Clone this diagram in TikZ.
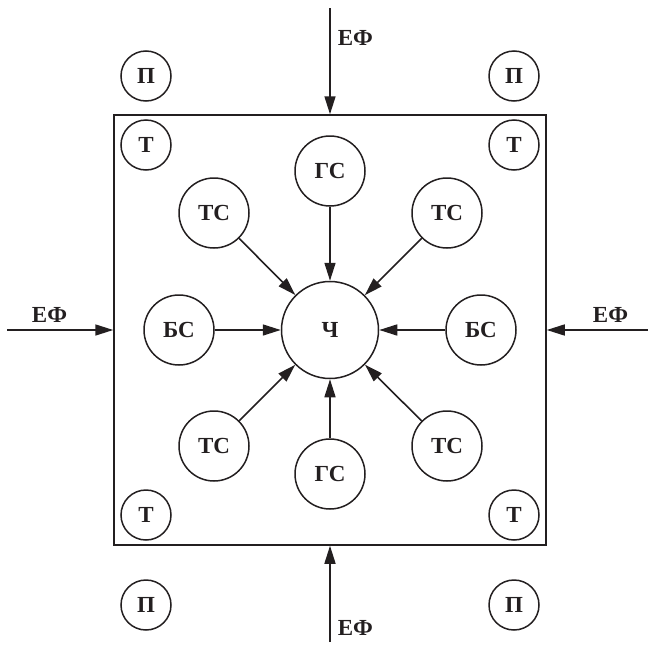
\documentclass[tikz,border=0pt]{standalone}
\usepackage{fontspec}
\setmainfont{Liberation Serif}
\usetikzlibrary{arrows.meta,positioning}
\definecolor{ctrazo}{HTML}{231F20}
\tikzset{
  circulo/.style={draw=ctrazo,circle,line width=1.5pt,inner sep=0pt,
                  font=\fontsize{23}{23}\selectfont\bfseries,text=ctrazo},
  chico/.style={circulo,minimum size=50pt},
  medio/.style={circulo,minimum size=70pt},
  grande/.style={circulo,minimum size=97pt},
  marco/.style={draw=ctrazo,line width=1.5pt,inner sep=0pt},
  flecha/.style={-{Stealth[length=18pt,width=11pt,inset=0pt]},draw=ctrazo,line width=1.6pt},
  et/.style={font=\fontsize{23}{23}\selectfont\bfseries,text=ctrazo,inner sep=7pt},
}
\begin{document}
\begin{tikzpicture}[x=1pt,y=-1pt]
\useasboundingbox (0,0) rectangle (648,648);

% ---------------- marco ----------------
\node[marco,minimum width=432pt,minimum height=430pt] (caja) at (330,330) {};

% ---------------- esquinas ----------------
\node[chico] (p1) at (146,76)  {П};
\node[chico] (p2) at (514,76)  {П};
\node[chico] (p3) at (146,605) {П};
\node[chico] (p4) at (514,605) {П};
\node[chico] (t1) at (146,145) {Т};
\node[chico] (t2) at (514,145) {Т};
\node[chico] (t3) at (146,515) {Т};
\node[chico] (t4) at (514,515) {Т};

% ---------------- centro ----------------
\node[grande] (ch) at (330,330) {Ч};
\node[medio] (gs1) at (330,171) {ГС};
\node[medio] (gs2) at (330,474) {ГС};
\node[medio] (ts1) at (214,213) {ТС};
\node[medio] (ts2) at (447,213) {ТС};
\node[medio] (ts3) at (214,446) {ТС};
\node[medio] (ts4) at (447,446) {ТС};
\node[medio] (bs1) at (179,330) {БС};
\node[medio] (bs2) at (481,330) {БС};

\foreach \s in {gs1,gs2,ts1,ts2,ts3,ts4,bs1,bs2}
  \draw[flecha] (\s) -- (ch);

% ---------------- ЕФ ----------------
\coordinate (ea) at (330,8);
\coordinate (eb) at (330,642);
\coordinate (ei) at (7,330);
\coordinate (ed) at (648,330);
\draw[flecha] (ea) -- node[et,right,pos=0.28]{ЕФ} (caja.north);
\draw[flecha] (eb) -- node[et,right,pos=0.15]{ЕФ} (caja.south);
\draw[flecha] (ei) -- node[et,above,pos=0.4]{ЕФ} (caja.west);
\draw[flecha] (ed) -- node[et,above,pos=0.37]{ЕФ} (caja.east);

\end{tikzpicture}
\end{document}
